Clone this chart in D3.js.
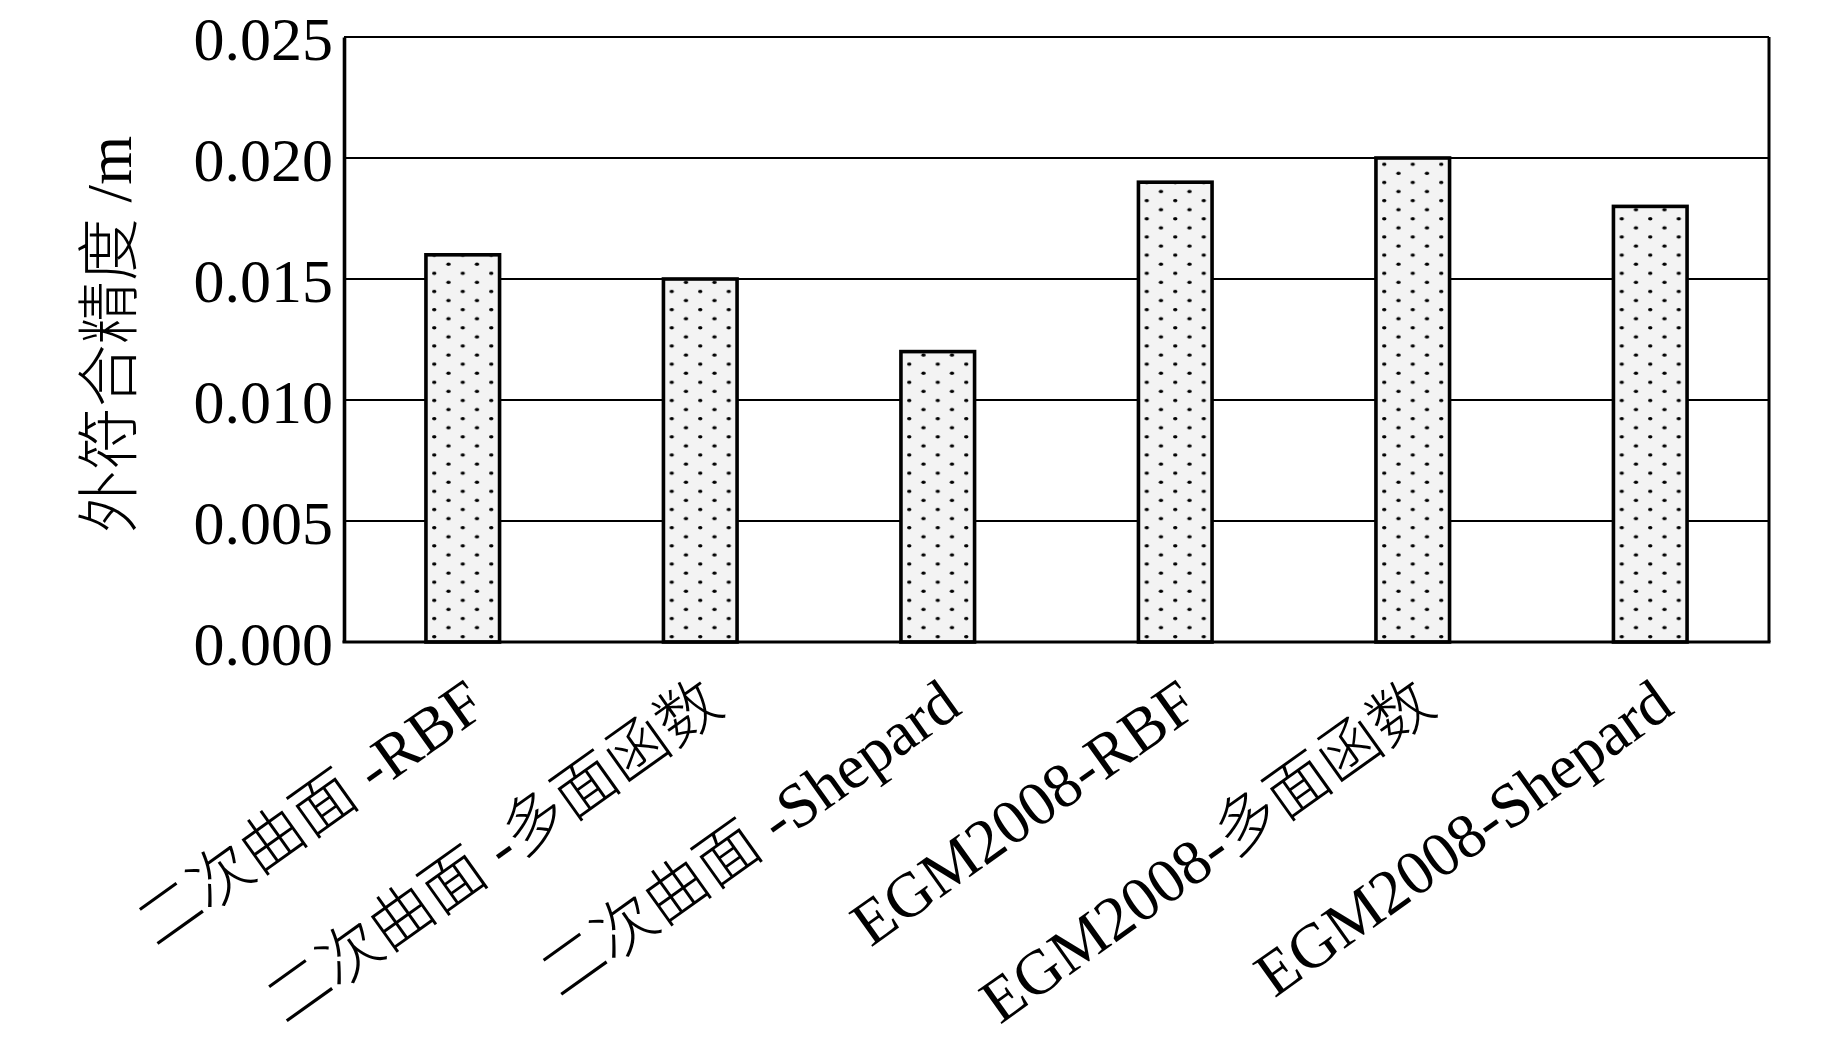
<!DOCTYPE html>
<html>
<head>
<meta charset="utf-8">
<script src="https://cdn.jsdelivr.net/npm/d3@7"></script>
<style>
  html, body { margin: 0; padding: 0; background: #fff; }
  svg { display: block; }
  text { fill: #000; }
</style>
</head>
<body>
<svg id="chart" width="1843" height="1039"></svg>
<script>
const categories = ["二次曲面 -RBF", "二次曲面 -多面函数", "二次曲面 -Shepard", "EGM2008-RBF", "EGM2008-多面函数", "EGM2008-Shepard"];
const values = [0.016, 0.015, 0.012, 0.019, 0.020, 0.018];
const yTicks = [0.000, 0.005, 0.010, 0.015, 0.020, 0.025];
const yTitle = "外符合精度 /m";

const W = 1843, H = 1039;
const plot = { left: 344, right: 1769, top: 37, bottom: 642 };
const FONT = "'Liberation Serif', 'Times New Roman', 'Noto Sans CJK SC', serif";

const svg = d3.select("#chart");

const x = d3.scaleBand()
  .domain(categories)
  .range([plot.left, plot.right])
  .paddingInner(0.69)
  .paddingOuter(0.345);

const y = d3.scaleLinear()
  .domain([0, 0.025])
  .range([plot.bottom, plot.top]);

// patterns: stipple with staggered dots, one per bar so a dot column sits at the bar centre
const defs = svg.append("defs");
const pw = 28.5, ph = 18.17;
categories.forEach((c, i) => {
  const cx = x(c) + x.bandwidth() / 2;
  const p = defs.append("pattern")
    .attr("id", "dots" + i)
    .attr("patternUnits", "userSpaceOnUse")
    .attr("width", pw).attr("height", ph)
    .attr("x", cx - pw / 4)
    .attr("y", y(0) - 5.3 - ph / 4);
  p.append("rect").attr("width", pw).attr("height", ph).attr("fill", "#f3f3f3");
  p.append("ellipse").attr("cx", pw / 4).attr("cy", ph / 4).attr("rx", 2.2).attr("ry", 1.7).attr("fill", "#000");
  p.append("ellipse").attr("cx", 3 * pw / 4).attr("cy", 3 * ph / 4).attr("rx", 2.2).attr("ry", 1.7).attr("fill", "#000");
});

// gridlines
svg.append("g")
  .selectAll("line")
  .data(yTicks.filter(t => t > 0 && t < 0.025))
  .join("line")
  .attr("x1", plot.left).attr("x2", plot.right)
  .attr("y1", d => y(d)).attr("y2", d => y(d))
  .attr("stroke", "#000").attr("stroke-width", 2);

// bars
svg.append("g")
  .selectAll("rect")
  .data(values)
  .join("rect")
  .attr("x", (d, i) => x(categories[i]))
  .attr("width", x.bandwidth())
  .attr("y", d => y(d))
  .attr("height", d => y(0) - y(d))
  .attr("fill", (d, i) => `url(#dots${i})`)
  .attr("stroke", "#000")
  .attr("stroke-width", 3.6);

// frame
svg.append("line").attr("x1", plot.left).attr("x2", plot.right).attr("y1", plot.top).attr("y2", plot.top)
  .attr("stroke", "#000").attr("stroke-width", 2.2);
svg.append("line").attr("x1", plot.right).attr("x2", plot.right).attr("y1", plot.top).attr("y2", plot.bottom)
  .attr("stroke", "#000").attr("stroke-width", 3);
svg.append("line").attr("x1", plot.left - 1.5).attr("x2", plot.right + 1.5).attr("y1", plot.bottom).attr("y2", plot.bottom)
  .attr("stroke", "#000").attr("stroke-width", 3);

// y axis
const yAxis = d3.axisLeft(y).tickValues(yTicks).tickFormat(d3.format(".3f")).tickSize(0).tickPadding(11);
const gy = svg.append("g").attr("transform", `translate(${plot.left},0)`).call(yAxis);
gy.select(".domain").attr("stroke", "#000").attr("stroke-width", 3.6);
gy.selectAll("text")
  .attr("font-family", FONT)
  .attr("font-size", 62)
  .attr("dy", "0.37em")
  .attr("fill", "#000");

// x labels
const xAxis = d3.axisBottom(x).tickSize(0).tickPadding(0);
const gx = svg.append("g").attr("transform", `translate(0,${plot.bottom})`).call(xAxis);
gx.select(".domain").remove();
gx.selectAll("text")
  .attr("font-family", FONT)
  .attr("font-size", 63)
  .attr("font-weight", 300)
  .attr("text-anchor", "end")
  .attr("y", 0).attr("dy", 0)
  .attr("transform", "translate(26,70) rotate(-35.5)")
  .attr("fill", "#000");

// y title
svg.append("text")
  .attr("transform", `translate(110,${(plot.top + plot.bottom) / 2 - 5}) rotate(-90)`)
  .attr("text-anchor", "middle")
  .attr("dominant-baseline", "central")
  .attr("font-family", FONT)
  .attr("font-size", 63)
  .attr("font-weight", 300)
  .text(yTitle);
</script>
</body>
</html>
